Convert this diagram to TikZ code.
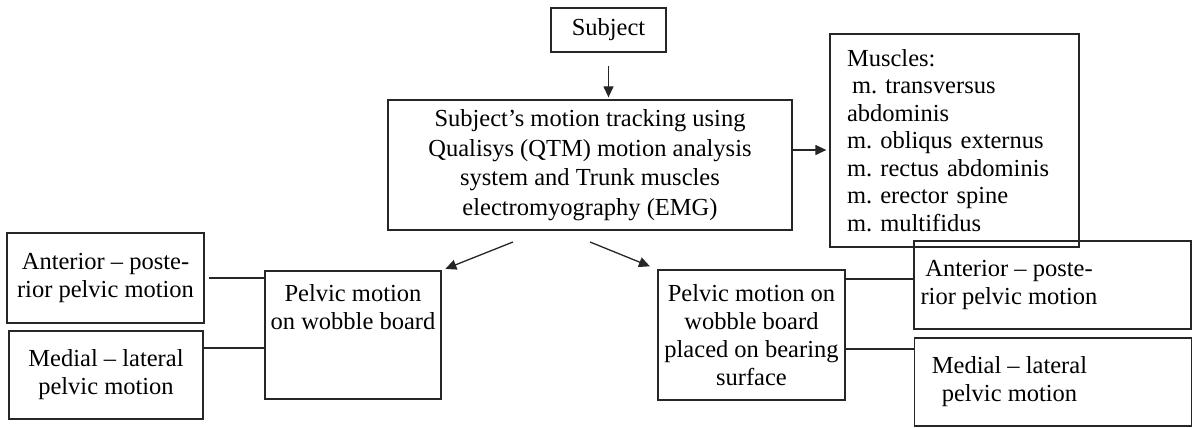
\documentclass[tikz,border=0pt]{standalone}
\usepackage{fontspec}
\setmainfont{Liberation Serif}
\usetikzlibrary{arrows.meta,positioning}
\tikzset{
  block/.style={draw=black!85, line width=1.3pt, align=center, inner sep=4pt,
    font=\fontsize{24.5}{28}\selectfont},
  arr/.style={draw=black!85, -{Triangle[length=11pt,width=10pt]}, line width=1.3pt},
  link/.style={draw=black!85, line width=1.3pt}
}
\frenchspacing

\begin{document}
\begin{tikzpicture}[x=1pt,y=-1pt]
  \useasboundingbox (0,0) rectangle (1192,428);

  % top chain
  \node[block, minimum width=115pt, minimum height=44pt] (subj) at (608.5,30) {Subject};
  \node[block, minimum width=404pt, minimum height=130pt, font=\fontsize{24.5}{29.5}\selectfont]
    (track) at (590,165)
    {Subject's motion tracking using\\Qualisys (QTM) motion analysis\\system and Trunk muscles\\electromyography (EMG)};
  \node[block, align=left, text width=215pt, inner xsep=17pt, minimum height=213pt,
    font=\fontsize{24.5}{27.5}\selectfont] (musc) at (954.5,140.5)
    {Muscles:\\\hspace*{5pt}m. transversus\\abdominis\\m. obliqus externus\\m. rectus abdominis\\m. erector spine\\m. multifidus};

  % the two set-ups
  \node[block, minimum width=176pt, minimum height=128pt] (pelL) at (353,335)
    {Pelvic motion\\on wobble board\\~\\~};
  \node[block, minimum width=187pt, minimum height=130pt] (pelR) at (751.5,335)
    {Pelvic motion on\\wobble board\\placed on bearing\\surface};

  % motion directions
  \node[block, minimum width=197pt, minimum height=90pt] (apL) at (105.5,278)
    {Anterior – poste-\\rior pelvic motion};
  \node[block, minimum width=194pt, minimum height=88pt] (mlL) at (106,375)
    {Medial – lateral\\pelvic motion};
  \node[block, minimum width=277pt, minimum height=88pt] (apR) at (1052.5,285)
    {\begin{tabular}{@{}c@{\hspace{87pt}}}Anterior – poste-\\rior pelvic motion\end{tabular}};
  \node[block, minimum width=277pt, minimum height=88pt] (mlR) at (1053,382)
    {\begin{tabular}{@{}c@{\hspace{87pt}}}Medial – lateral\\pelvic motion\end{tabular}};

  \coordinate (fromL) at (513,242);
  \coordinate (fromR) at (590,242);

  \draw[arr, shorten <=13pt, shorten >=2pt] (subj.south) -- (subj.south |- track.north);
  \draw[arr, shorten >=3pt] ([yshift=15pt]track.east) -- ([yshift=15pt]track.east -| musc.west);
  \draw[arr, shorten >=4pt] (fromL) -- (pelL.north east);
  \draw[arr, shorten >=8pt] (fromR) -- (pelR.north west);

  \draw[link, shorten <=4pt] (apL.east) -- (apL.east -| pelL.west);
  \draw[link] ([yshift=-13pt]pelL.west) -- ([yshift=-13pt]pelL.west -| mlL.east);
  \draw[link] ([yshift=56pt]pelR.east) -- ([yshift=56pt]pelR.east -| apR.west);
  \draw[link] ([yshift=-14pt]pelR.east) -- ([yshift=-14pt]pelR.east -| mlR.west);
\end{tikzpicture}
\end{document}
